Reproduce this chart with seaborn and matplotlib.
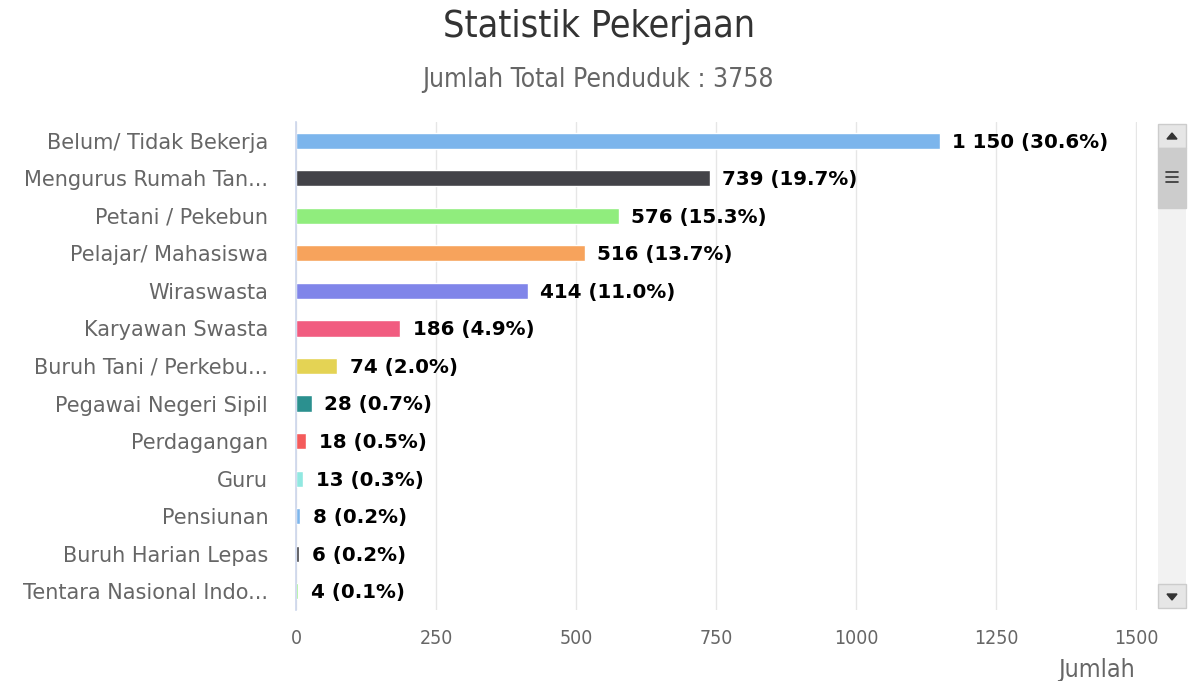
# Statistik Pekerjaan - barres horizontales façon Highcharts
import seaborn as sns
import matplotlib.pyplot as plt
import matplotlib.patches as mpatches
import pandas as pd

######################################################################################################
# Données
######################################################################################################
pekerjaan = ["Belum/ Tidak Bekerja", "Mengurus Rumah Tan...", "Petani / Pekebun",
             "Pelajar/ Mahasiswa", "Wiraswasta", "Karyawan Swasta",
             "Buruh Tani / Perkebu...", "Pegawai Negeri Sipil", "Perdagangan",
             "Guru", "Pensiunan", "Buruh Harian Lepas", "Tentara Nasional Indo..."]
jumlah = [1150, 739, 576, 516, 414, 186, 74, 28, 18, 13, 8, 6, 4]
total_penduduk = 3758
x_ticks = [0, 250, 500, 750, 1000, 1250, 1500]
warna = ["#7cb5ec", "#434348", "#90ed7d", "#f7a35c", "#8085e9", "#f15c80",
         "#e4d354", "#2b908f", "#f45b5b", "#91e8e1", "#7cb5ec", "#434348", "#90ed7d"]

df = pd.DataFrame({"Pekerjaan": pekerjaan, "Jumlah": jumlah})

######################################################################################################
# Figure
######################################################################################################
sns.set_style("white")
plt.rcParams['font.family'] = ['DejaVu Sans']

fig = plt.figure(figsize=(11.88, 6.81), dpi=100)
ax = fig.add_axes([296 / 1188, 1 - 610 / 681, 841 / 1188, 488 / 681])

sns.barplot(data=df, y="Pekerjaan", x="Jumlah", hue="Pekerjaan", palette=warna,
            legend=False, width=0.43, orient="h", ax=ax, saturation=1)

ax.set_xlim(0, 1502)
ax.set_ylim(12.5, -0.5)
ax.set_xticks(x_ticks)
ax.set_xticklabels([str(t) for t in x_ticks], color="#666666", fontsize=14,
                   fontstretch="condensed")
ax.tick_params(axis="x", length=0, pad=14)
ax.tick_params(axis="y", length=0, pad=20, labelsize=15, labelcolor="#666666")
ax.grid(axis="x", color="#e6e6e6", linewidth=1)
ax.set_axisbelow(True)
for s in ["top", "right", "bottom"]:
    ax.spines[s].set_visible(False)
ax.spines["left"].set_color("#ccd6eb")
ax.spines["left"].set_linewidth(1.2)
ax.set_ylabel("")
ax.set_xlabel("")

# Étiquettes de valeur
for i, v in enumerate(jumlah):
    pct = v / total_penduduk * 100
    txt = f"{v:,}".replace(",", " ") + f" ({pct:.1f}%)"
    ax.annotate(txt, (v, i), xytext=(9, -1), textcoords="offset points",
                va="center", ha="left", fontsize=14.3, fontweight="bold", color="black")

# Titres
fig.text(599 / 1188, 1 - 27 / 681, "Statistik Pekerjaan", ha="center", va="center",
         fontsize=27, color="#333333", fontstretch="condensed")
fig.text(598 / 1188, 1 - 80 / 681, "Jumlah Total Penduduk : 3758", ha="center", va="center",
         fontsize=19, color="#666666", fontstretch="condensed")
fig.text(1135 / 1188, 1 - 670 / 681, "Jumlah", ha="right", va="center",
         fontsize=18, color="#666666", fontstretch="condensed")

# Barre de défilement
def rect_px(x, y, w, h, **kw):
    fig.add_artist(mpatches.Rectangle((x / 1188, 1 - (y + h) / 681), w / 1188, h / 681,
                                      transform=fig.transFigure, **kw))

rect_px(1158, 124, 28, 484, facecolor="#f2f2f2", edgecolor="none")
rect_px(1158, 124, 28, 24, facecolor="#e6e6e6", edgecolor="#cccccc", linewidth=1)
rect_px(1158, 584, 28, 24, facecolor="#e6e6e6", edgecolor="#cccccc", linewidth=1)
rect_px(1158, 148, 28, 60, facecolor="#cccccc", edgecolor="#cccccc", linewidth=1)
fig.add_artist(mpatches.Polygon([(1167 / 1188, 1 - 139 / 681), (1177 / 1188, 1 - 139 / 681),
                                 (1172 / 1188, 1 - 133 / 681)], closed=True,
                                transform=fig.transFigure, color="#333333"))
fig.add_artist(mpatches.Polygon([(1167 / 1188, 1 - 594 / 681), (1177 / 1188, 1 - 594 / 681),
                                 (1172 / 1188, 1 - 600 / 681)], closed=True,
                                transform=fig.transFigure, color="#333333"))
for yy in [172, 177, 182]:
    fig.add_artist(plt.Line2D([1166 / 1188, 1178 / 1188], [1 - yy / 681, 1 - yy / 681],
                              transform=fig.transFigure, color="#333333", linewidth=1.2))

fig.savefig("out.png", dpi=100)
